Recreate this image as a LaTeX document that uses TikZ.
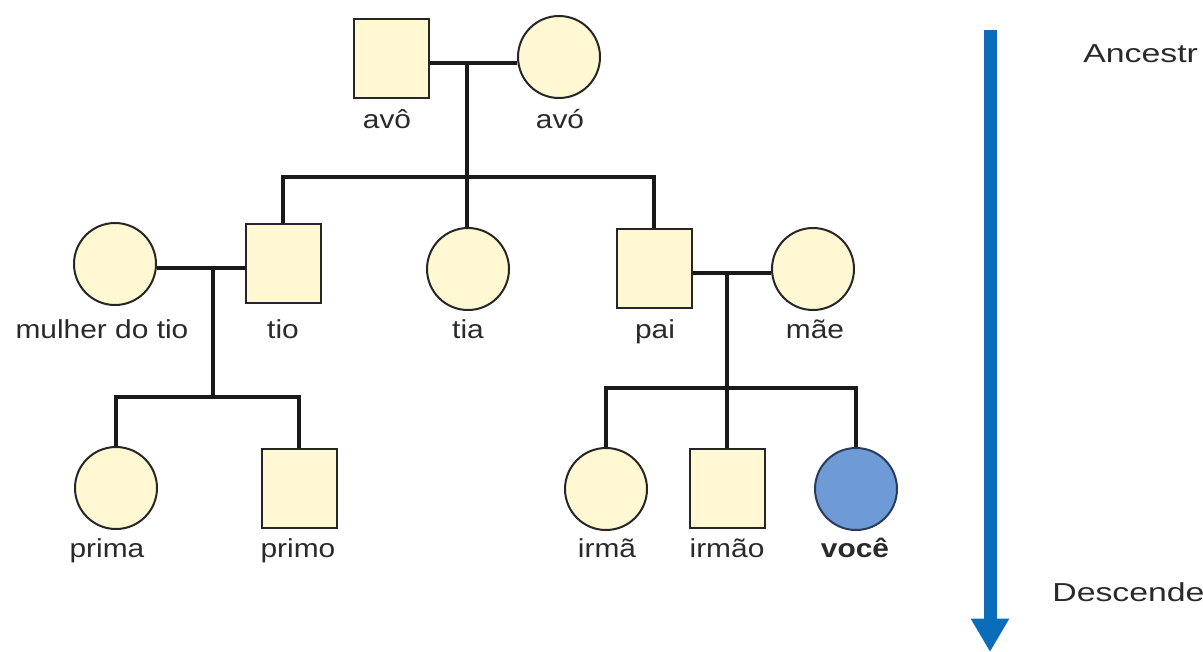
\documentclass[tikz,border=0pt]{standalone}
\usepackage{fontspec}
\setmainfont{Liberation Sans}
\usetikzlibrary{backgrounds,arrows.meta}
\definecolor{pale}{HTML}{FFF8D2}
\definecolor{youblue}{HTML}{6E9BD6}
\definecolor{youedge}{HTML}{2B3B5C}
\definecolor{arrowblue}{HTML}{0B6DBA}
\definecolor{txt}{HTML}{2A2A2A}
\tikzset{
  male/.style={draw=black!85, line width=1.5pt, fill=pale, rectangle, minimum width=75*0.75pt, minimum height=79*0.75pt, inner sep=0pt},
  female/.style={draw=black!85, line width=1.5pt, fill=pale, circle, minimum size=82*0.75pt, inner sep=0pt},
  youstyle/.style={draw=youedge, line width=1.5pt, fill=youblue, circle, minimum size=82*0.75pt, inner sep=0pt},
  link/.style={line width=3.4pt, draw=black!90},
  lbl/.style={anchor=base, inner sep=0pt, text=txt, font=\fontsize{19.5}{22}\selectfont, xscale=1.15},
  side/.style={anchor=base west, inner sep=0pt, text=txt, font=\fontsize{19.5}{22}\selectfont, xscale=1.3},
  timearrow/.style={draw=arrowblue, line width=9.75pt, -{Triangle[width=27pt,length=25pt]}}
}
\begin{document}
\begin{tikzpicture}[x=0.75pt,y=-0.75pt]
\useasboundingbox (0,0) rectangle (1203,651);
% generation 1
\node[male] (avo) at (391,58) {};
\node[female] (avoo) at (559,57) {};
% generation 2
\node[female] (mdt) at (115,264) {};
\node[male] (tio) at (283,263) {};
\node[female] (tia) at (468,269) {};
\node[male] (pai) at (654,268) {};
\node[female] (mae) at (813,269) {};
% generation 3
\node[female] (prima) at (116,488) {};
\node[male] (primo) at (299,488) {};
\node[female] (irma) at (606,489) {};
\node[male] (irmao) at (727,488) {};
\node[youstyle] (voce) at (856,489) {};
% labels
\node[lbl] (lavo) at (387,128) {avô};
\node[lbl] (lavoo) at (560,128) {avó};
\node[lbl] (lmdt) at (102,338) {mulher do tio};
\node[lbl] (ltio) at (283,338) {tio};
\node[lbl] (ltia) at (468,338) {tia};
\node[lbl] (lpai) at (655,338) {pai};
\node[lbl] (lmae) at (815,338) {mãe};
\node[lbl] (lprima) at (107,557) {prima};
\node[lbl] (lprimo) at (298,557) {primo};
\node[lbl] (lirma) at (607,557) {irmã};
\node[lbl] (lirmao) at (727,557) {irmão};
\node[lbl] (lvoce) at (855,557) {\bfseries você};
% side texts
\node[side] (anc) at (1083,62) {Ancestr};
\node[side] (desc) at (1052,601) {Descende};
% junctions
\coordinate (j1) at (467,63);
\coordinate (sib) at (467,177);
\coordinate (j2) at (213,268);
\coordinate (c2) at (213,397);
\coordinate (j3) at (727,273);
\coordinate (c3) at (727,388);
\coordinate (atop) at (990,30);
\coordinate (atip) at (990,652);
\begin{pgfonlayer}{background}
\fill[white] (0,0) rectangle (1203,651);
\draw[link] (avo.east |- j1) -- (avoo.west |- j1);
\draw[link] (j1) -- (j1 |- tia.north);
\draw[link] (tio.north) |- (sib) -| (pai.north);
\draw[link] (mdt.east |- j2) -- (tio.west |- j2);
\draw[link] (j2) -- (c2);
\draw[link] (prima.north) |- (c2) -| (primo.north);
\draw[link] (pai.east |- j3) -- (mae.west |- j3);
\draw[link] (j3) -- (irmao.north);
\draw[link] (irma.north) |- (c3) -| (voce.north);
\end{pgfonlayer}
\draw[timearrow] (atop) -- (atip);
\end{tikzpicture}
\end{document}
